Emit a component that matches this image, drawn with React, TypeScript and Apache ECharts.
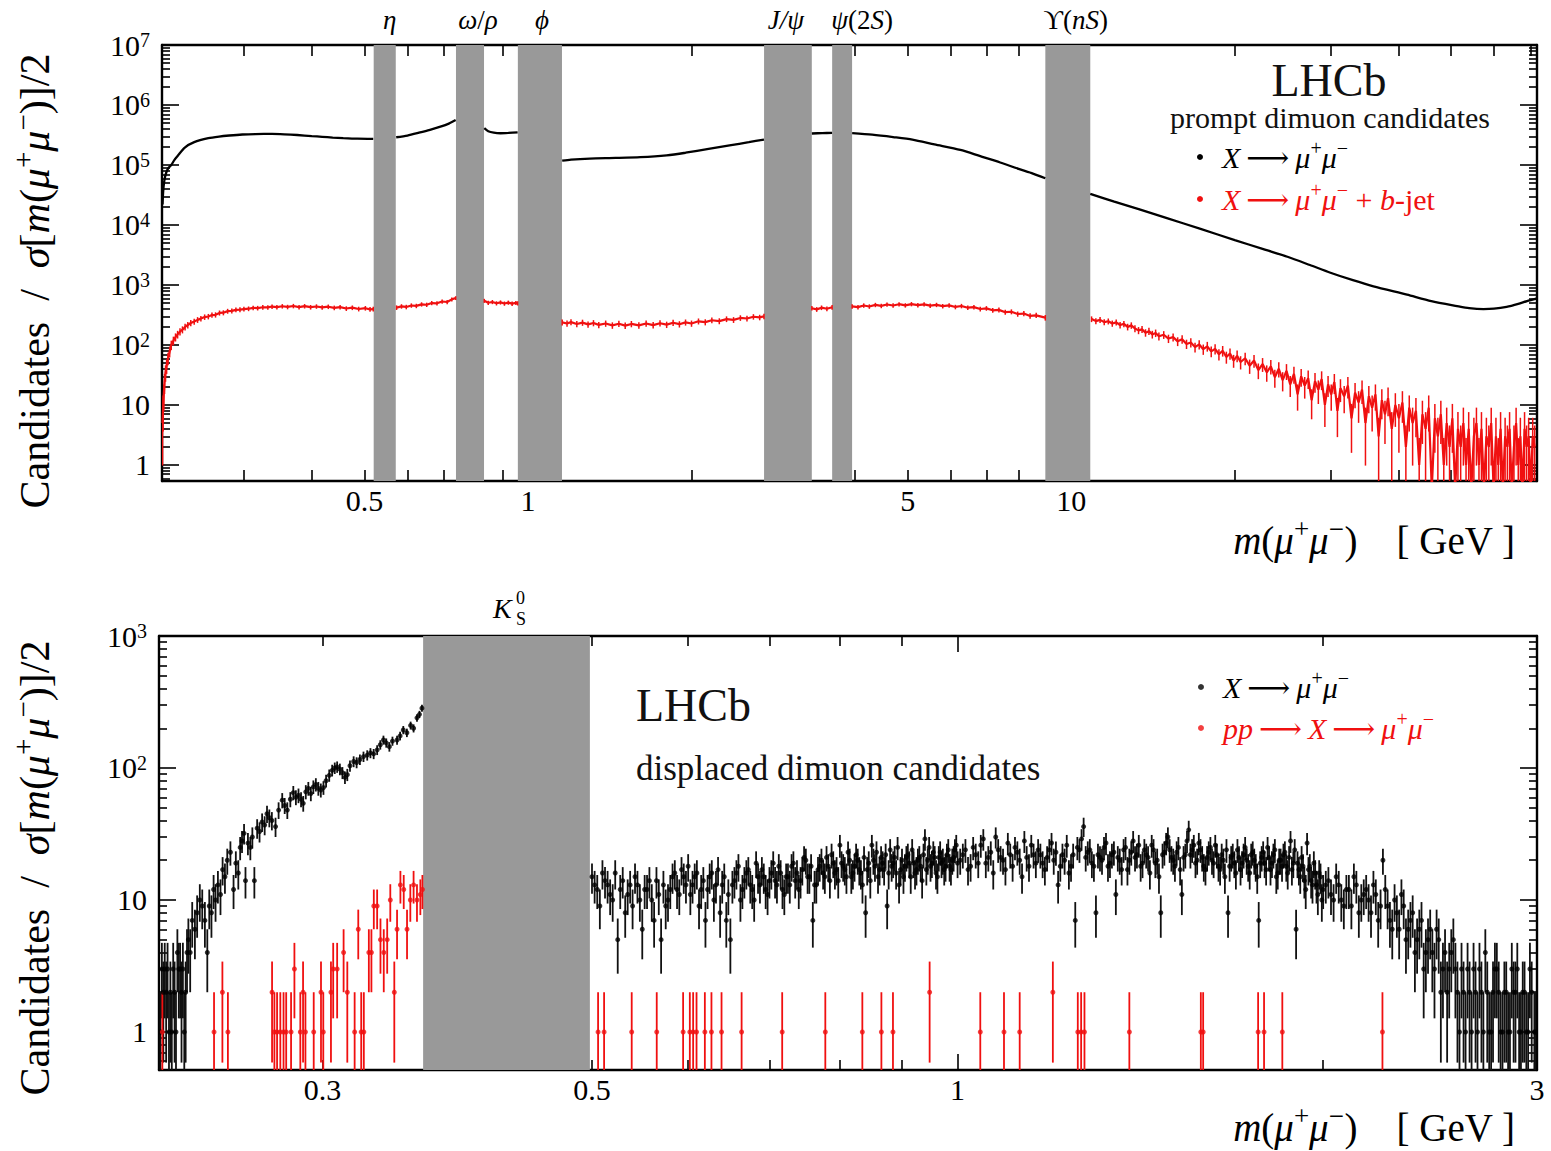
import React, { useEffect, useRef } from 'react';
import * as echarts from 'echarts';

const SERIF = 'Liberation Serif, DejaVu Serif, serif';

// ---------------- Top panel: prompt dimuon candidates ----------------
const promptXRange = [0.212, 72];
const promptYRange = [0.54, 1e7];
const promptXTicks = [0.3, 0.4, 0.5, 0.6, 0.7, 0.8, 0.9, 2, 3, 4, 5, 6, 7, 8, 9, 20, 30, 40, 50, 60, 70];
const promptXLongTicks = [1, 10];
const promptXLabels = [0.5, 1, 5, 10];
const promptYLabels = [1, 10, 100, 1e3, 1e4, 1e5, 1e6, 1e7];

const promptBandNames = ['eta', 'omega', 'phi', 'jpsi', 'psi2s', 'upsilon'];
const promptBandLow = [0.52, 0.737, 0.958, 2.72, 3.63, 8.96];
const promptBandHigh = [0.571, 0.83, 1.155, 3.33, 3.95, 10.84];
const promptBandLabels = [
  '{i|η}',
  '{i|ω}{r|/}{i|ρ}',
  '{i|ϕ}',
  '{i|J/ψ}',
  '{i|ψ}{r|(2}{i|S}{r|)}',
  '{r|ϒ(}{i|nS}{r|)}',
];
const promptBandLabelShift = [5, 8, 2, -2, 20, 8];

// X -> mu+ mu- (prompt)
const promptAll: [number, number | null][] = [
  [0.2125, 2.2e4], [0.213, 3.5e4], [0.2138, 5.0e4], [0.215, 6.6e4], [0.2162, 7.8e4], [0.218, 9.0e4],
  [0.2205, 1.0e5], [0.2235, 1.22e5], [0.227, 1.45e5], [0.2335, 1.95e5], [0.243, 2.4e5], [0.258, 2.8e5],
  [0.27, 2.98e5], [0.282, 3.1e5], [0.298, 3.22e5], [0.315, 3.28e5], [0.338, 3.3e5], [0.356, 3.25e5],
  [0.376, 3.16e5], [0.4, 3.03e5], [0.418, 2.95e5], [0.437, 2.86e5], [0.457, 2.8e5], [0.485, 2.74e5],
  [0.519, 2.72e5],
  [0.545, null],
  [0.572, 2.9e5], [0.6, 3.1e5], [0.63, 3.45e5], [0.66, 3.85e5], [0.69, 4.35e5], [0.715, 4.9e5], [0.736, 5.6e5],
  [0.78, null],
  [0.831, 4.1e5], [0.845, 3.65e5], [0.865, 3.45e5], [0.89, 3.38e5], [0.92, 3.42e5], [0.957, 3.5e5],
  [1.05, null],
  [1.156, 1.18e5], [1.2, 1.23e5], [1.3, 1.28e5], [1.45, 1.31e5], [1.61, 1.35e5], [1.8, 1.45e5],
  [1.95, 1.6e5], [2.15, 1.85e5], [2.35, 2.12e5], [2.55, 2.4e5], [2.719, 2.65e5],
  [3.0, null],
  [3.331, 3.35e5], [3.48, 3.4e5], [3.629, 3.42e5],
  [3.8, null],
  [3.951, 3.4e5], [4.3, 3.2e5], [4.7, 2.92e5], [5.1, 2.65e5], [5.6, 2.2e5], [6.25, 1.78e5], [6.8, 1.4e5],
  [7.4, 1.1e5], [8.0, 8.6e4], [8.5, 7.2e4], [8.959, 6.0e4],
  [9.8, null],
  [10.84, 3.3e4], [12.0, 2.45e4], [13.4, 1.8e4], [15.0, 1.3e4], [17.3, 8.6e3], [20.0, 5.6e3], [22.5, 4.0e3],
  [25.0, 2.95e3], [27.5, 2.15e3], [30.0, 1.6e3], [33.0, 1.2e3], [36.0, 950], [41.5, 690], [46.0, 540],
  [51.3, 445], [54.0, 410], [57.4, 395], [60.0, 402], [63.3, 432], [66.5, 485], [69.0, 540], [72.0, 600],
];

// X -> mu+ mu- + b-jet (prompt)
const promptBjet: [number, number | null][] = [
  [0.2125, 5], [0.213, 9], [0.2136, 15], [0.2143, 24], [0.2152, 35], [0.2162, 45], [0.2175, 60], [0.219, 78],
  [0.2205, 100], [0.2225, 118], [0.2245, 135], [0.2265, 150], [0.2288, 167], [0.2312, 180], [0.2338, 200],
  [0.2365, 215], [0.2395, 232], [0.243, 246], [0.2465, 262], [0.25, 275], [0.254, 292], [0.258, 298],
  [0.262, 315], [0.266, 318], [0.2705, 342], [0.275, 345], [0.28, 366], [0.285, 370], [0.29, 385],
  [0.295, 388], [0.3, 396], [0.306, 402], [0.312, 415], [0.318, 412], [0.325, 425], [0.332, 422],
  [0.338, 437], [0.345, 426], [0.353, 442], [0.361, 430], [0.37, 446], [0.379, 428], [0.388, 443],
  [0.398, 426], [0.408, 438], [0.418, 422], [0.429, 434], [0.44, 416], [0.451, 428], [0.463, 405],
  [0.475, 418], [0.488, 398], [0.502, 410], [0.512, 392], [0.519, 396],
  [0.545, null],
  [0.573, 420], [0.585, 440], [0.597, 430], [0.61, 455], [0.623, 448], [0.637, 475], [0.651, 468],
  [0.665, 500], [0.68, 495], [0.695, 530], [0.71, 520], [0.724, 575], [0.736, 605],
  [0.78, null],
  [0.831, 545], [0.845, 505], [0.86, 520], [0.875, 495], [0.89, 512], [0.905, 490], [0.92, 508],
  [0.935, 488], [0.95, 502], [0.957, 495],
  [1.05, null],
  [1.156, 238], [1.18, 228], [1.2, 240], [1.23, 224], [1.26, 236], [1.29, 220], [1.32, 232], [1.35, 216],
  [1.39, 228], [1.43, 212], [1.47, 226], [1.51, 210], [1.55, 224], [1.6, 212], [1.65, 228], [1.7, 214],
  [1.75, 230], [1.8, 218], [1.85, 235], [1.9, 222], [1.95, 238], [2.0, 228], [2.06, 248], [2.12, 240],
  [2.18, 258], [2.25, 250], [2.32, 270], [2.39, 262], [2.46, 282], [2.53, 276], [2.6, 295], [2.67, 288],
  [2.719, 300],
  [3.0, null],
  [3.331, 410], [3.4, 392], [3.47, 418], [3.55, 402], [3.629, 425],
  [3.8, null],
  [3.951, 440], [4.05, 428], [4.15, 455], [4.25, 438], [4.36, 465], [4.47, 448], [4.58, 472], [4.7, 455],
  [4.82, 478], [4.95, 458], [5.08, 480], [5.22, 460], [5.36, 476], [5.5, 452], [5.65, 466], [5.8, 444],
  [5.96, 456], [6.12, 430], [6.28, 446], [6.45, 418], [6.62, 428], [6.8, 398], [6.98, 408], [7.17, 378],
  [7.36, 384], [7.56, 352], [7.76, 358], [7.97, 328], [8.18, 334], [8.4, 305], [8.62, 312], [8.959, 285],
  [9.8, null],
  [10.9, 270], [11.1, 250], [11.3, 262], [11.5, 240], [11.7, 248], [11.9, 228], [12.1, 238], [12.3, 215],
  [12.5, 225], [12.7, 200], [12.9, 212], [13.1, 188], [13.3, 175], [13.5, 182], [13.7, 160], [13.9, 170],
  [14.1, 150], [14.3, 158], [14.5, 140], [14.8, 148], [15.1, 128], [15.4, 135], [15.7, 115], [16.0, 125],
  [16.3, 104], [16.6, 110], [16.9, 92], [17.2, 102], [17.5, 85], [17.8, 95], [18.1, 78], [18.4, 86],
  [18.7, 70], [19.0, 80], [19.3, 63], [19.6, 72], [19.9, 55], [20.2, 66], [20.5, 52], [20.9, 60],
  [21.3, 45], [21.7, 55], [22.1, 38], [22.5, 48], [22.9, 35], [23.3, 44], [23.7, 29], [24.1, 40],
  [24.5, 26], [24.9, 37], [25.3, 22], [25.7, 33], [26.1, 15], [26.5, 30], [26.9, 21], [27.3, 28],
  [27.7, 12], [28.1, 25], [28.5, 18], [28.9, 27], [29.3, 10], [29.7, 22], [30.1, 15], [30.5, 24],
  [30.9, 8], [31.3, 19], [31.8, 14], [32.3, 21], [32.8, 6], [33.3, 16], [33.8, 11], [34.3, 18],
  [34.8, 5], [35.3, 14], [35.8, 9], [36.3, 15], [36.8, 3], [37.3, 12], [37.8, 7], [38.3, 13],
  [38.9, 4], [39.5, 10], [40.1, 6], [40.7, 11], [41.3, 2], [41.9, 9], [42.5, 5], [43.1, 8],
  [43.7, 1], [44.3, 7], [44.9, 4], [45.5, 9], [46.1, 0.4], [46.7, 6], [47.3, 3], [47.9, 7],
  [48.5, 1], [49.1, 5], [49.7, 2], [50.3, 6], [50.9, 0.4], [51.5, 4], [52.1, 2], [52.7, 5],
  [53.3, 1], [53.9, 4], [54.5, 0.4], [55.1, 3], [55.7, 5], [56.3, 1], [56.9, 4], [57.5, 0.4],
  [58.1, 3], [58.7, 2], [59.3, 5], [59.9, 0.4], [60.5, 3], [61.1, 1], [61.7, 4], [62.3, 0.4],
  [62.9, 3], [63.5, 2], [64.1, 4], [64.7, 0.4], [65.3, 2], [65.9, 5], [66.5, 1], [67.1, 3],
  [67.7, 0.4], [68.3, 4], [68.9, 2], [69.5, 3], [70.1, 0.4], [70.7, 3], [71.3, 2],
];

// ---------------- Bottom panel: displaced dimuon candidates ----------------
const displacedXRange = [0.22, 3];
const displacedYRange = [0.515, 1000];
const displacedXTicks = [0.3, 0.4, 0.5, 0.6, 0.7, 0.8, 0.9, 2];
const displacedXLongTicks = [1];
const displacedXLabels = [0.3, 0.5, 1, 3];
const displacedYLabels = [1, 10, 100, 1000];
const displacedBandLow = [0.363];
const displacedBandHigh = [0.498];

// X -> mu+ mu- (displaced), candidate counts per bin
const displacedAll: [number, number][] = [
  [0.2206, 1], [0.2212, 3], [0.2218, 2], [0.2224, 3], [0.223, 2], [0.2236, 3], [0.2242, 1], [0.2248, 2],
  [0.2254, 1], [0.226, 3], [0.2266, 2], [0.2272, 1], [0.2278, 4], [0.2284, 3], [0.229, 3], [0.2296, 2],
  [0.2302, 3], [0.2308, 1], [0.2314, 2], [0.232, 4], [0.2326, 5], [0.2334, 4],
  [0.2343, 7], [0.2355, 6], [0.2365, 8], [0.2377, 10], [0.2388, 9], [0.24, 7], [0.2411, 4], [0.242, 9],
  [0.243, 8], [0.244, 12], [0.2449, 10], [0.246, 13], [0.2472, 11], [0.2482, 17], [0.2493, 15],
  [0.2504, 20], [0.2519, 23], [0.2534, 12], [0.2545, 19], [0.2557, 16], [0.2566, 25], [0.2575, 28],
  [0.2585, 32], [0.2592, 14], [0.2604, 27], [0.2616, 25], [0.2626, 30], [0.2636, 14], [0.265, 35],
  [0.2662, 33], [0.2675, 39], [0.2688, 37], [0.27, 45], [0.2712, 42], [0.2725, 40], [0.2744, 36],
  [0.276, 48], [0.2779, 57], [0.2792, 52], [0.2806, 48], [0.2822, 58], [0.2838, 65], [0.2852, 60],
  [0.2866, 62], [0.288, 58], [0.2892, 54], [0.2906, 66], [0.292, 70], [0.2934, 64], [0.2948, 72],
  [0.2962, 75], [0.2976, 70], [0.299, 68], [0.3005, 71], [0.302, 80], [0.3038, 88], [0.3055, 96],
  [0.307, 100], [0.3084, 102], [0.31, 98], [0.3115, 92], [0.313, 85], [0.3144, 89], [0.316, 104],
  [0.3182, 112], [0.32, 110], [0.322, 116], [0.3242, 122], [0.3265, 125], [0.3285, 130], [0.3305, 128],
  [0.3327, 137], [0.3347, 150], [0.3367, 163], [0.3385, 155], [0.3405, 145], [0.3425, 160], [0.3455, 163],
  [0.3475, 175], [0.3496, 194], [0.352, 185], [0.3545, 210], [0.3565, 200], [0.3588, 240], [0.3605, 255],
  [0.3622, 284],
  [0.5, 15], [0.505, 12], [0.51, 16], [0.515, 13], [0.52, 10], [0.525, 5], [0.53, 14], [0.535, 11],
  [0.54, 9], [0.545, 13], [0.55, 6], [0.555, 12], [0.56, 10], [0.565, 14], [0.57, 5], [0.575, 9],
  [0.58, 12], [0.585, 16], [0.59, 11], [0.595, 15], [0.6, 18], [0.605, 13], [0.61, 16], [0.615, 12],
  [0.62, 7], [0.625, 15], [0.63, 10], [0.635, 17], [0.64, 13], [0.645, 7], [0.65, 5], [0.655, 14],
  [0.66, 18], [0.665, 12], [0.67, 16], [0.675, 13], [0.68, 10], [0.685, 15], [0.69, 17], [0.695, 12],
  [0.7, 14], [0.705, 19], [0.71, 13], [0.715, 16], [0.72, 11], [0.725, 15], [0.73, 18], [0.735, 14],
  [0.74, 12], [0.745, 17], [0.75, 20], [0.755, 15], [0.76, 7], [0.765, 13], [0.77, 18], [0.775, 16],
  [0.78, 21], [0.785, 14], [0.79, 19], [0.795, 17], [0.8, 26], [0.805, 18], [0.81, 15], [0.815, 20],
  [0.82, 16], [0.825, 22], [0.83, 17], [0.835, 13], [0.84, 8], [0.845, 19], [0.85, 26], [0.855, 18],
  [0.86, 15], [0.865, 21], [0.87, 17], [0.875, 9], [0.88, 24], [0.885, 19], [0.89, 16], [0.895, 13],
  [0.9, 20], [0.905, 18], [0.91, 22], [0.915, 15], [0.92, 19], [0.925, 17], [0.93, 21], [0.935, 14],
  [0.94, 29], [0.945, 20], [0.95, 18], [0.955, 23], [0.96, 16], [0.965, 21], [0.97, 19], [0.975, 17],
  [0.98, 22], [0.985, 18], [0.99, 20], [0.995, 24], [1.0, 19],
  [1.01, 22], [1.02, 17], [1.03, 25], [1.04, 19], [1.05, 29], [1.06, 21], [1.07, 16], [1.08, 24],
  [1.09, 20], [1.1, 27], [1.11, 18], [1.12, 23], [1.13, 15], [1.14, 21], [1.15, 26], [1.16, 19],
  [1.17, 22], [1.18, 17], [1.19, 24], [1.2, 20], [1.21, 13], [1.22, 22], [1.23, 26], [1.24, 18],
  [1.25, 7], [1.26, 24], [1.27, 36], [1.28, 23], [1.29, 19], [1.3, 8], [1.31, 21], [1.32, 25],
  [1.33, 18], [1.34, 22], [1.35, 11], [1.36, 20], [1.37, 24], [1.38, 17], [1.39, 23], [1.4, 21],
  [1.41, 26], [1.42, 19], [1.43, 22], [1.44, 16], [1.45, 24], [1.46, 20], [1.47, 8], [1.48, 23],
  [1.49, 30], [1.5, 21], [1.51, 18], [1.52, 25], [1.53, 11], [1.54, 22], [1.55, 34], [1.56, 24],
  [1.57, 19], [1.58, 27], [1.59, 21], [1.6, 17], [1.61, 23], [1.62, 20], [1.63, 26], [1.64, 18],
  [1.65, 22], [1.66, 15], [1.67, 8], [1.68, 21], [1.69, 19], [1.7, 24], [1.71, 17], [1.72, 22],
  [1.73, 20], [1.74, 16], [1.75, 23], [1.76, 18], [1.77, 7], [1.78, 21], [1.79, 19], [1.8, 25],
  [1.81, 17], [1.82, 22], [1.83, 15], [1.84, 20], [1.85, 18], [1.86, 23], [1.87, 16], [1.88, 28],
  [1.89, 19], [1.9, 6], [1.91, 17], [1.92, 21], [1.93, 14], [1.94, 27], [1.95, 18], [1.96, 13],
  [1.97, 16], [1.98, 11], [1.99, 15], [2.0, 12],
  [2.02, 14], [2.04, 10], [2.06, 13], [2.08, 9], [2.1, 12], [2.12, 15], [2.14, 8], [2.16, 11],
  [2.18, 10], [2.2, 13], [2.22, 7], [2.24, 20], [2.26, 9], [2.28, 6], [2.3, 8], [2.32, 11],
  [2.34, 5], [2.36, 7], [2.38, 4], [2.4, 6], [2.42, 3], [2.44, 5], [2.46, 4], [2.48, 6],
  [2.5, 2], [2.52, 4], [2.54, 3], [2.56, 5], [2.58, 2], [2.6, 3], [2.62, 1], [2.64, 2],
  [2.66, 3], [2.68, 1], [2.7, 2], [2.72, 4], [2.74, 1], [2.76, 2], [2.78, 3], [2.8, 1],
  [2.82, 2], [2.84, 1], [2.86, 3], [2.88, 2], [2.9, 1], [2.92, 2], [2.94, 1], [2.96, 3], [2.985, 1],
];

// X -> mu+ mu- (displaced), the interleaved bins above the K0S window
const displacedAllMid: [number, number][] = [
  [0.5025, 13], [0.5075, 9], [0.5125, 14], [0.5175, 11], [0.5225, 16], [0.5275, 12], [0.5325, 8], [0.5375, 13],
  [0.5425, 15], [0.5475, 10], [0.5525, 12], [0.5575, 14], [0.5625, 7], [0.5675, 11], [0.5725, 13], [0.5775, 10],
  [0.5825, 15], [0.5875, 12], [0.5925, 17], [0.5975, 13], [0.6025, 11], [0.6075, 15], [0.6125, 9], [0.6175, 14],
  [0.6225, 12], [0.6275, 16], [0.6325, 13], [0.6375, 8], [0.6425, 15], [0.6475, 11], [0.6525, 13], [0.6575, 16],
  [0.6625, 10], [0.6675, 14], [0.6725, 17], [0.6775, 12], [0.6825, 19], [0.6875, 13], [0.6925, 15], [0.6975, 11],
  [0.7025, 16], [0.7075, 14], [0.7125, 18], [0.7175, 12], [0.7225, 15], [0.7275, 13], [0.7325, 19], [0.7375, 16],
  [0.7425, 14], [0.7475, 21], [0.7525, 15], [0.7575, 18], [0.7625, 13], [0.7675, 17], [0.7725, 20], [0.7775, 15],
  [0.7825, 18], [0.7875, 22], [0.7925, 16], [0.7975, 14], [0.8025, 19], [0.8075, 17], [0.8125, 23], [0.8175, 15],
  [0.8225, 18], [0.8275, 20], [0.8325, 16], [0.8375, 21], [0.8425, 17], [0.8475, 14], [0.8525, 20], [0.8575, 23],
  [0.8625, 17], [0.8675, 19], [0.8725, 22], [0.8775, 16], [0.8825, 18], [0.8875, 21], [0.8925, 25], [0.8975, 17],
  [0.9025, 15], [0.9075, 21], [0.9125, 19], [0.9175, 24], [0.9225, 16], [0.9275, 20], [0.9325, 18], [0.9375, 22],
  [0.9425, 17], [0.9475, 25], [0.9525, 19], [0.9575, 21], [0.9625, 15], [0.9675, 23], [0.9725, 20], [0.9775, 18],
  [0.9825, 24], [0.9875, 17], [0.9925, 21], [0.9975, 26],
  [1.005, 20], [1.015, 24], [1.025, 18], [1.035, 22], [1.045, 26], [1.055, 19], [1.065, 23], [1.075, 30],
  [1.085, 21], [1.095, 17], [1.105, 22], [1.115, 25], [1.125, 20], [1.135, 28], [1.145, 18], [1.155, 22],
  [1.165, 24], [1.175, 19], [1.185, 21], [1.195, 27], [1.205, 23], [1.215, 18], [1.225, 20], [1.235, 16],
  [1.245, 22], [1.255, 25], [1.265, 29], [1.275, 21], [1.285, 24], [1.295, 18], [1.305, 22], [1.315, 20],
  [1.325, 27], [1.335, 19], [1.345, 23], [1.355, 21], [1.365, 17], [1.375, 25], [1.385, 20], [1.395, 28],
  [1.405, 22], [1.415, 18], [1.425, 24], [1.435, 21], [1.445, 26], [1.455, 19], [1.465, 15], [1.475, 22],
  [1.485, 27], [1.495, 24], [1.505, 20], [1.515, 23], [1.525, 17], [1.535, 21], [1.545, 28], [1.555, 22],
  [1.565, 26], [1.575, 20], [1.585, 24], [1.595, 18], [1.605, 21], [1.615, 25], [1.625, 19], [1.635, 22],
  [1.645, 17], [1.655, 20], [1.665, 24], [1.675, 18], [1.685, 22], [1.695, 16], [1.705, 21], [1.715, 19],
  [1.725, 25], [1.735, 18], [1.745, 22], [1.755, 20], [1.765, 15], [1.775, 19], [1.785, 23], [1.795, 17],
  [1.805, 21], [1.815, 19], [1.825, 24], [1.835, 16], [1.845, 20], [1.855, 22], [1.865, 18], [1.875, 21],
  [1.885, 17], [1.895, 24], [1.905, 19], [1.915, 15], [1.925, 18], [1.935, 12], [1.945, 17], [1.955, 14],
  [1.965, 19], [1.975, 13], [1.985, 16], [1.995, 10],
  [2.01, 13], [2.03, 11], [2.05, 15], [2.07, 10], [2.09, 12], [2.11, 9], [2.13, 13], [2.15, 10],
  [2.17, 12], [2.19, 8], [2.21, 11], [2.23, 9], [2.25, 12], [2.27, 7], [2.29, 10], [2.31, 6],
  [2.33, 9], [2.35, 6], [2.37, 8], [2.39, 5], [2.41, 7], [2.43, 4], [2.45, 6], [2.47, 3],
  [2.49, 5], [2.51, 3], [2.53, 2], [2.55, 4], [2.57, 3], [2.59, 1], [2.61, 2], [2.63, 3],
  [2.65, 1], [2.67, 2], [2.69, 3], [2.71, 1], [2.73, 2], [2.75, 1], [2.77, 3], [2.79, 2],
  [2.81, 1], [2.83, 2], [2.85, 1], [2.87, 2], [2.89, 3], [2.91, 1], [2.93, 2], [2.95, 1], [2.97, 2], [2.99, 1],
];

// pp -> X -> mu+ mu- (displaced)
const displacedPP: [number, number][] = [
  [0.2214, 1], [0.2442, 1], [0.2481, 2], [0.2507, 1], [0.2726, 2], [0.2738, 1], [0.2752, 1], [0.2769, 1],
  [0.2786, 1], [0.28, 1], [0.2826, 1], [0.2844, 3], [0.2876, 1], [0.2891, 2], [0.2904, 1], [0.295, 1],
  [0.2991, 2], [0.3004, 1], [0.3048, 2], [0.3061, 3], [0.3084, 3], [0.3122, 4], [0.3144, 2], [0.3188, 1],
  [0.321, 6], [0.3228, 1], [0.3244, 1], [0.3275, 4], [0.3291, 4], [0.3306, 9], [0.3327, 9], [0.3348, 5],
  [0.3369, 4], [0.3391, 5], [0.3411, 10], [0.3437, 2], [0.3455, 6], [0.3477, 13], [0.3499, 12],
  [0.3521, 6], [0.3543, 10], [0.3565, 13], [0.3588, 10], [0.3611, 11], [0.3625, 12],
  [0.5058, 1], [0.5116, 1], [0.5391, 1], [0.5653, 1], [0.5943, 1], [0.6019, 1], [0.6057, 1], [0.6096, 1],
  [0.6193, 1], [0.6271, 1], [0.6392, 1], [0.664, 1], [0.7171, 1], [0.7782, 1], [0.8348, 1], [0.8655, 1],
  [0.8847, 1], [0.9484, 2], [1.044, 1], [1.092, 1], [1.125, 1], [1.198, 2], [1.256, 1], [1.264, 1],
  [1.272, 1], [1.385, 1], [1.586, 1], [1.593, 1], [1.768, 1], [1.788, 1], [1.851, 1], [2.238, 1],
];

// ---------------- helpers ----------------
function minorLogTicks(lo: number, hi: number): number[] {
  const out: number[] = [];
  for (let e = Math.floor(Math.log10(lo)); e <= Math.ceil(Math.log10(hi)); e++) {
    for (let k = 2; k <= 9; k++) {
      const v = Number((k * Math.pow(10, e)).toPrecision(6));
      if (v >= lo && v <= hi) out.push(v);
    }
  }
  return out;
}

// rich styles for models (legend, marker labels)
function mathRich(size: number, color: string, prefix = '') {
  const lh = Math.round(size * 1.25);
  const r: any = {};
  r[prefix + 'r'] = { fontFamily: SERIF, fontSize: size, color, lineHeight: lh };
  r[prefix + 'i'] = { fontFamily: SERIF, fontStyle: 'italic', fontSize: size, color, lineHeight: lh };
  r[prefix + 's'] = { fontFamily: SERIF, fontSize: Math.round(size * 0.68), color, lineHeight: Math.round(size * 0.7), verticalAlign: 'top' };
  return r;
}

// rich styles for raw graphic texts (use the font shorthand)
function gfxRich(size: number, color: string) {
  const lh = Math.round(size * 1.25);
  const ss = Math.round(size * 0.68);
  return {
    r: { font: size + 'px ' + SERIF, fill: color, lineHeight: lh },
    i: { font: 'italic ' + size + 'px ' + SERIF, fill: color, lineHeight: lh },
    s: { font: ss + 'px ' + SERIF, fill: color, lineHeight: Math.round(size * 0.7), verticalAlign: 'top' },
  };
}

const TICK_FONT = 30;
const tickRich = {
  r: { fontFamily: SERIF, fontSize: TICK_FONT, color: '#000', lineHeight: TICK_FONT },
  s: { fontFamily: SERIF, fontSize: 20, color: '#000', lineHeight: 14, verticalAlign: 'top' },
};

function decadeLabel(v: number) {
  const e = Math.round(Math.log10(v));
  if (e === 0) return '{r|1}';
  if (e === 1) return '{r|10}';
  return '{r|10}{s|' + e + '}';
}

function logAxis(gridIndex: number, position: string, range: number[], ticks: number[], len: number, showLine: boolean, labels?: { values: number[]; formatter: (v: number) => string; margin: number }) {
  return {
    type: 'log',
    logBase: 10,
    gridIndex,
    position,
    min: range[0],
    max: range[1],
    axisLine: { show: showLine, onZero: false, lineStyle: { color: '#000', width: 2.4 } },
    axisTick: { show: true, inside: true, length: len, customValues: ticks, lineStyle: { color: '#000', width: 1.6 } },
    minorTick: { show: false },
    splitLine: { show: false },
    minorSplitLine: { show: false },
    axisLabel: labels
      ? { show: true, customValues: labels.values, formatter: labels.formatter, margin: labels.margin, color: '#000', fontFamily: SERIF, fontSize: TICK_FONT, rich: tickRich }
      : { show: false },
  };
}

// vertical error bar of k * sqrt(N) around each point
function errBar(color: string, width: number, floor: number, minVal: number, k: number) {
  return (params: any, api: any) => {
    const x = api.value(0);
    const n = api.value(1);
    if (!(n >= minVal)) return null;
    const s = k * Math.sqrt(n);
    const lo = Math.max(n - s, floor);
    const hi = n + s;
    const p1 = api.coord([x, lo]);
    const p2 = api.coord([x, hi]);
    return {
      type: 'line',
      shape: { x1: p1[0], y1: p1[1], x2: p2[0], y2: p2[1] },
      style: { stroke: color, lineWidth: width },
    };
  };
}

const ARROW = '\u2009⟶\u2009';
const legendLabels: Record<string, string> = {
  promptAll: '{i|X}{r|' + ARROW + '}{i|μ}{s|+}{i|μ}{s|−}',
  promptBjet: '{ki|X}{kr|' + ARROW + '}{ki|μ}{ks|+}{ki|μ}{ks|−}{kr| + }{ki|b}{kr|-jet}',
  displacedAll: '{i|X}{r|' + ARROW + '}{i|μ}{s|+}{i|μ}{s|−}',
  displacedPP: '{ki|pp}{kr|' + ARROW + '}{ki|X}{kr|' + ARROW + '}{ki|μ}{ks|+}{ki|μ}{ks|−}',
};
const RED = '#f01010';
const LEGEND_FONT = 30;
const legendRich = { ...mathRich(LEGEND_FONT, '#000'), ...mathRich(LEGEND_FONT, RED, 'k') };

function buildOption() {
  const bandRich = mathRich(27, '#000');
  const yTitle = '{r|Candidates  /  }{i|σ}{r|[}{i|m}{r|(}{i|μ}{s|+}{i|μ}{s|−}{r|)]/2}';
  const xTitle = '{i|m}{r|(}{i|μ}{s|+}{i|μ}{s|−}{r|)    [ GeV ]}';
  const yTitleRich = gfxRich(42, '#000');
  const xTitleRich = gfxRich(39, '#000');
  const displacedAllData = displacedAll.concat(displacedAllMid);

  return {
    animation: false,
    backgroundColor: '#fff',
    grid: [
      { left: 162, top: 45, width: 1375, height: 436 },
      { left: 159, top: 636, width: 1378, height: 434 },
    ],
    xAxis: [
      logAxis(0, 'bottom', promptXRange, promptXTicks, 11, true, { values: promptXLabels, formatter: (v: number) => '{r|' + v + '}', margin: 4 }),
      logAxis(0, 'bottom', promptXRange, promptXLongTicks, 17, false),
      logAxis(0, 'top', promptXRange, promptXTicks, 11, true),
      logAxis(0, 'top', promptXRange, promptXLongTicks, 17, false),
      logAxis(1, 'bottom', displacedXRange, displacedXTicks, 10, true, { values: displacedXLabels, formatter: (v: number) => '{r|' + v + '}', margin: 4 }),
      logAxis(1, 'bottom', displacedXRange, displacedXLongTicks, 16, false),
      logAxis(1, 'top', displacedXRange, displacedXTicks, 10, true),
      logAxis(1, 'top', displacedXRange, displacedXLongTicks, 16, false),
    ],
    yAxis: [
      logAxis(0, 'left', promptYRange, promptYLabels, 17, true, { values: promptYLabels, formatter: decadeLabel, margin: 12 }),
      logAxis(0, 'left', promptYRange, minorLogTicks(promptYRange[0], promptYRange[1]), 8, false),
      logAxis(0, 'right', promptYRange, promptYLabels, 17, true),
      logAxis(0, 'right', promptYRange, minorLogTicks(promptYRange[0], promptYRange[1]), 8, false),
      logAxis(1, 'left', displacedYRange, displacedYLabels, 17, true, { values: displacedYLabels, formatter: decadeLabel, margin: 12 }),
      logAxis(1, 'left', displacedYRange, minorLogTicks(displacedYRange[0], displacedYRange[1]), 8, false),
      logAxis(1, 'right', displacedYRange, displacedYLabels, 17, true),
      logAxis(1, 'right', displacedYRange, minorLogTicks(displacedYRange[0], displacedYRange[1]), 8, false),
    ],
    legend: [
      {
        left: 1197, top: 138, orient: 'vertical', itemGap: 8, itemWidth: 34, itemHeight: 6, icon: 'circle',
        selectedMode: false, padding: 0,
        data: ['promptAll', 'promptBjet'],
        formatter: (n: string) => legendLabels[n],
        textStyle: { rich: legendRich },
      },
      {
        left: 1198, top: 668, orient: 'vertical', itemGap: 7, itemWidth: 34, itemHeight: 6, icon: 'circle',
        selectedMode: false, padding: 0,
        data: ['displacedAll', 'displacedPP'],
        formatter: (n: string) => legendLabels[n],
        textStyle: { rich: legendRich },
      },
    ],
    graphic: [
      { type: 'text', x: 35, y: 281, rotation: Math.PI / 2, style: { text: yTitle, rich: yTitleRich, align: 'center', verticalAlign: 'middle' } },
      { type: 'text', x: 35, y: 868, rotation: Math.PI / 2, style: { text: yTitle, rich: yTitleRich, align: 'center', verticalAlign: 'middle' } },
      { type: 'text', x: 1515, y: 540, style: { text: xTitle, rich: xTitleRich, align: 'right', verticalAlign: 'middle' } },
      { type: 'text', x: 1515, y: 1127, style: { text: xTitle, rich: xTitleRich, align: 'right', verticalAlign: 'middle' } },
      { type: 'text', x: 1329, y: 80, style: { text: 'LHCb', font: '46px ' + SERIF, fill: '#111', align: 'center', verticalAlign: 'middle' } },
      { type: 'text', x: 1330, y: 117, style: { text: 'prompt dimuon candidates', font: '30px ' + SERIF, fill: '#111', align: 'center', verticalAlign: 'middle' } },
      { type: 'text', x: 636, y: 705, style: { text: 'LHCb', font: '46px ' + SERIF, fill: '#111', align: 'left', verticalAlign: 'middle' } },
      { type: 'text', x: 636, y: 768, style: { text: 'displaced dimuon candidates', font: '35px ' + SERIF, fill: '#111', align: 'left', verticalAlign: 'middle' } },
      {
        type: 'group',
        children: [
          { type: 'text', x: 493, y: 608, style: { text: 'K', font: 'italic 28px ' + SERIF, fill: '#000', align: 'left', verticalAlign: 'middle' } },
          { type: 'text', x: 516, y: 598, style: { text: '0', font: '18px ' + SERIF, fill: '#000', align: 'left', verticalAlign: 'middle' } },
          { type: 'text', x: 516, y: 619, style: { text: 'S', font: '18px ' + SERIF, fill: '#000', align: 'left', verticalAlign: 'middle' } },
        ],
      },
    ],
    series: [
      {
        name: 'promptAll', type: 'line', xAxisIndex: 0, yAxisIndex: 0, data: promptAll, color: '#000',
        showSymbol: false, symbol: 'none', smooth: 0.25, connectNulls: false, z: 3,
        lineStyle: { color: '#000', width: 2.3 }, itemStyle: { color: '#000' },
        markArea: {
          silent: true,
          itemStyle: { color: '#999999', opacity: 1 },
          label: { show: true, position: 'top', distance: 8, formatter: (p: any) => promptBandLabels[promptBandNames.indexOf(p.name)], rich: bandRich },
          data: promptBandNames.map((n, i) => [
            { name: n, xAxis: promptBandLow[i], label: { offset: [promptBandLabelShift[i], 0] } },
            { xAxis: promptBandHigh[i] },
          ]),
        },
      },
      {
        name: 'promptBjetErr', type: 'custom', xAxisIndex: 0, yAxisIndex: 0, data: promptBjet,
        renderItem: errBar(RED, 1.5, 0.3, 0.5, 1.8), clip: true, silent: true, z: 2,
      },
      {
        name: 'promptBjet', type: 'line', xAxisIndex: 0, yAxisIndex: 0, data: promptBjet, color: RED,
        showSymbol: false, symbol: 'none', connectNulls: false, z: 2,
        lineStyle: { color: RED, width: 2.2 }, itemStyle: { color: RED },
      },
      {
        name: 'displacedAllErr', type: 'custom', xAxisIndex: 4, yAxisIndex: 4, data: displacedAllData,
        renderItem: errBar('#111', 1.8, 0.3, 0.5, 1), clip: true, silent: true, z: 2,
      },
      {
        name: 'displacedAll', type: 'scatter', xAxisIndex: 4, yAxisIndex: 4, data: displacedAllData, color: '#000',
        symbol: 'circle', symbolSize: 5, itemStyle: { color: '#000' }, z: 4, silent: true,
        markArea: {
          silent: true,
          itemStyle: { color: '#999999', opacity: 1 },
          data: displacedBandLow.map((lo, i) => [{ xAxis: lo }, { xAxis: displacedBandHigh[i] }]),
        },
      },
      {
        name: 'displacedPPErr', type: 'custom', xAxisIndex: 4, yAxisIndex: 4, data: displacedPP,
        renderItem: errBar(RED, 1.8, 0.3, 0.5, 1), clip: true, silent: true, z: 3,
      },
      {
        name: 'displacedPP', type: 'scatter', xAxisIndex: 4, yAxisIndex: 4, data: displacedPP, color: RED,
        symbol: 'circle', symbolSize: 5, itemStyle: { color: RED }, z: 5, silent: true,
      },
    ],
  };
}

export default function App() {
  const ref = useRef<HTMLDivElement>(null);
  useEffect(() => {
    if (!ref.current) return;
    const chart = echarts.init(ref.current, null, { renderer: 'svg' });
    chart.setOption(buildOption() as any);
    return () => chart.dispose();
  }, []);
  return (
    <div
      ref={ref}
      style={{ position: 'fixed', left: 0, top: 0, width: '1551px', height: '1151px', background: '#fff' }}
    />
  );
}
